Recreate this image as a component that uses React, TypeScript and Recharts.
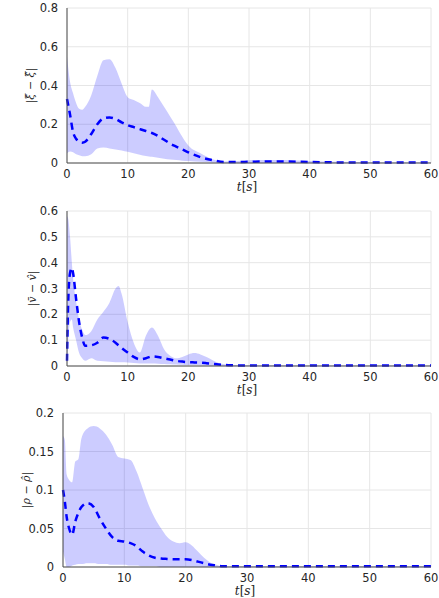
import { ComposedChart, Area, Line, XAxis, YAxis, CartesianGrid } from 'recharts';

// time stamps (s) per panel
const t1 = [0, 0.5, 1, 1.5, 2, 2.5, 3, 4, 5, 6, 7, 8, 9, 10, 11, 12, 13, 13.5, 14, 15, 16, 17, 18, 19, 20, 22, 24, 26, 28, 30, 33, 36, 40, 45, 50, 55, 60];
const upper1 = [0.55, 0.42, 0.36, 0.31, 0.28, 0.275, 0.29, 0.35, 0.45, 0.53, 0.535, 0.49, 0.41, 0.34, 0.325, 0.31, 0.29, 0.29, 0.38, 0.34, 0.29, 0.24, 0.19, 0.135, 0.09, 0.05, 0.02, 0.008, 0.01, 0.014, 0.016, 0.015, 0.01, 0.006, 0.004, 0.003, 0.003];
const lower1 = [0.05, 0.06, 0.055, 0.045, 0.04, 0.035, 0.035, 0.045, 0.075, 0.08, 0.075, 0.07, 0.065, 0.058, 0.05, 0.042, 0.036, 0.034, 0.032, 0.027, 0.022, 0.018, 0.015, 0.012, 0.01, 0.006, 0.003, 0.001, 0, 0, 0, 0, 0, 0, 0, 0, 0];
const mean1 = [0.33, 0.25, 0.16, 0.125, 0.11, 0.105, 0.11, 0.15, 0.2, 0.23, 0.235, 0.228, 0.21, 0.195, 0.185, 0.175, 0.165, 0.16, 0.155, 0.14, 0.12, 0.1, 0.085, 0.07, 0.055, 0.03, 0.015, 0.005, 0.005, 0.006, 0.008, 0.008, 0.005, 0.003, 0.002, 0.002, 0.002];

const t2 = [0, 0.2, 0.5, 0.8, 1, 1.5, 2, 2.5, 3, 4, 5, 6, 7, 8, 8.5, 9, 10, 11, 12, 13, 14, 15, 16, 17, 18, 19, 20, 21, 22, 23, 25, 27, 30, 35, 40, 45, 50, 55, 60];
const upper2 = [0.58, 0.57, 0.5, 0.4, 0.34, 0.25, 0.18, 0.14, 0.12, 0.135, 0.18, 0.21, 0.245, 0.3, 0.31, 0.28, 0.17, 0.09, 0.052, 0.117, 0.149, 0.117, 0.065, 0.04, 0.03, 0.035, 0.045, 0.05, 0.045, 0.035, 0.012, 0.005, 0.003, 0.003, 0.002, 0.002, 0.002, 0.002, 0.002];
const lower2 = [0, 0.1, 0.17, 0.18, 0.15, 0.1, 0.05, 0.03, 0.02, 0.03, 0.02, 0.018, 0.016, 0.015, 0.015, 0.015, 0.014, 0.012, 0.01, 0.01, 0.01, 0.009, 0.008, 0.007, 0.006, 0.005, 0.004, 0.004, 0.003, 0.002, 0.001, 0, 0, 0, 0, 0, 0, 0, 0];
const mean2 = [0.02, 0.25, 0.36, 0.38, 0.36, 0.26, 0.17, 0.11, 0.078, 0.08, 0.09, 0.11, 0.105, 0.09, 0.08, 0.07, 0.052, 0.035, 0.026, 0.03, 0.037, 0.035, 0.03, 0.025, 0.02, 0.017, 0.015, 0.014, 0.013, 0.011, 0.006, 0.003, 0.002, 0.002, 0.002, 0.002, 0.002, 0.002, 0.002];

const t3 = [0, 0.3, 0.6, 1, 1.5, 2, 2.5, 3, 4, 5, 6, 7, 8, 9, 10, 11, 12, 13, 14, 15, 16, 17, 18, 19, 20, 21, 22, 23, 24, 25, 26, 28, 30, 35, 40, 45, 50, 55, 60];
const upper3 = [0.17, 0.165, 0.12, 0.113, 0.11, 0.137, 0.14, 0.167, 0.18, 0.183, 0.18, 0.172, 0.159, 0.143, 0.141, 0.139, 0.124, 0.102, 0.08, 0.063, 0.05, 0.039, 0.033, 0.031, 0.032, 0.028, 0.02, 0.012, 0.006, 0.003, 0.001, 0.001, 0.001, 0.001, 0.001, 0.001, 0.001, 0.001, 0.001];
const lower3 = [0.02, 0.01, 0, 0, 0.002, 0.003, 0.004, 0.004, 0.005, 0.005, 0.004, 0.004, 0.003, 0.003, 0.003, 0.002, 0.002, 0.001, 0.001, 0.001, 0, 0, 0, 0, 0, 0, 0, 0, 0, 0, 0, 0, 0, 0, 0, 0, 0, 0, 0];
const mean3 = [0.1, 0.085, 0.065, 0.05, 0.042, 0.059, 0.07, 0.078, 0.083, 0.078, 0.063, 0.05, 0.039, 0.034, 0.033, 0.031, 0.027, 0.02, 0.015, 0.012, 0.011, 0.0105, 0.01, 0.01, 0.01, 0.009, 0.007, 0.005, 0.003, 0.002, 0.001, 0.001, 0.001, 0.001, 0.001, 0.001, 0.001, 0.001, 0.001];

const xTicks = [0, 10, 20, 30, 40, 50, 60];
const yTicks1 = [0, 0.2, 0.4, 0.6, 0.8];
const yTicks2 = [0, 0.1, 0.2, 0.3, 0.4, 0.5, 0.6];
const yTicks3 = [0, 0.05, 0.1, 0.15, 0.2];

const tickStyle = { fontSize: 11.5, fill: '#262626', fontFamily: 'DejaVu Sans' };

function build(t: number[], lo: number[], hi: number[], mean: number[]) {
  return t.map((x, i) => ({ t: x, band: [lo[i], hi[i]], mean: mean[i] }));
}

interface PanelProps {
  top: number;
  height: number;
  left: number;
  data: { t: number; band: number[]; mean: number }[];
  yTicks: number[];
  yLabel: string;
  labelX: number;
}

function Panel({ top, height, left, data, yTicks, yLabel, labelX }: PanelProps) {
  const plotTop = 8;
  const plotBottom = height - 31;
  const midY = (plotTop + plotBottom) / 2;
  const midX = (left + 431) / 2 - 2;
  return (
    <div style={{ position: 'absolute', top, left: 0, width: 439, height }}>
      <ComposedChart width={439} height={height} data={data} margin={{ top: plotTop, right: 8, left: 0, bottom: 0 }}>
        <CartesianGrid stroke="#e6e6e6" />
        <XAxis
          dataKey="t"
          type="number"
          domain={[0, 60]}
          ticks={xTicks}
          tick={tickStyle}
          tickLine={false}
          axisLine={{ stroke: '#4d4d4d' }}
          height={31}
          tickMargin={1}
        />
        <YAxis
          type="number"
          domain={[0, yTicks[yTicks.length - 1]]}
          ticks={yTicks}
          tick={tickStyle}
          tickLine={false}
          axisLine={{ stroke: '#4d4d4d' }}
          width={left}
          tickMargin={3}
        />
        <Area
          dataKey="band"
          type="monotone"
          stroke="none"
          fill="#0000ff"
          fillOpacity={0.2}
          isAnimationActive={false}
        />
        <Line
          dataKey="mean"
          type="monotone"
          stroke="#0000ff"
          strokeWidth={2.5}
          strokeDasharray="7 5"
          dot={false}
          isAnimationActive={false}
        />
      </ComposedChart>
      <svg width={439} height={height} style={{ position: 'absolute', top: 0, left: 0, pointerEvents: 'none' }}>
        <text x={midX} y={plotBottom + 28} textAnchor="middle" fontFamily="DejaVu Serif" fontSize={12} fill="#262626">
          <tspan fontStyle="italic">t</tspan>[<tspan fontStyle="italic">s</tspan>]
        </text>
        <text
          x={labelX}
          y={midY}
          transform={`rotate(-90 ${labelX} ${midY})`}
          textAnchor="middle"
          dominantBaseline="middle"
          fontFamily="DejaVu Serif"
          fontStyle="italic"
          fontSize={11}
          fill="#262626"
        >
          {yLabel}
        </text>
      </svg>
    </div>
  );
}

export default function App() {
  return (
    <div style={{ position: 'absolute', top: 0, left: 0, width: 439, height: 598, background: '#fff', overflow: 'hidden' }}>
      <Panel top={0} height={194} left={67} data={build(t1, lower1, upper1, mean1)} yTicks={yTicks1} yLabel="|ξ̄ − ξ̂|" labelX={31} />
      <Panel top={203} height={194} left={67} data={build(t2, lower2, upper2, mean2)} yTicks={yTicks2} yLabel="|v̄ − v̂|" labelX={33} />
      <Panel top={405} height={193} left={63} data={build(t3, lower3, upper3, mean3)} yTicks={yTicks3} yLabel="|ρ − ρ̂|" labelX={27} />
    </div>
  );
}
